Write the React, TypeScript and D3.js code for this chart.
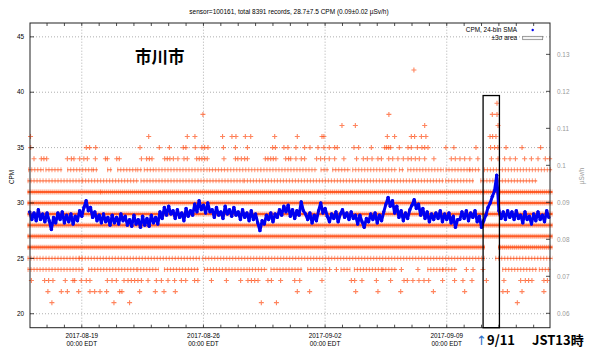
import React from 'react';
import * as d3 from 'd3';

const width = 600, height = 352;
const margin = { top: 23, right: 50, bottom: 24.3, left: 30 };

// time runs in days from 2017-08-16 00:00 (EDT wall clock)
const START = Date.UTC(2017, 7, 16);
const DAY = 864e5;
const toDate = (d: number) => new Date(START + d * DAY);

const title = 'sensor=100161, total 8391 records, 28.7±7.5 CPM (0.09±0.02 µSv/h)';
const dateTicks = ['2017-08-19', '2017-08-26', '2017-09-02', '2017-09-09'];
const cpmTicks = [20, 25, 30, 35, 40, 45];
const usvTicks = [0.06, 0.07, 0.08, 0.09, 0.1, 0.11, 0.12, 0.13];
const CPM_PER_USV = 334;

// isolated CPM readings (day offsets) for the sparse levels
const marks21 = [1.28, 4.85, 5.75, 13.33, 14.2, 28.06];
const marks22 = [1.05, 1.82, 2.17, 2.82, 3.47, 3.74, 4.05, 4.43, 5.18, 5.31, 6.33, 7.23, 7.73, 8.38,
  15.4, 16.11, 18.76, 20.04, 21.35, 23.23, 25.03, 27.23, 27.49, 28.33, 29.59];
const marks23 = [0.1, 0.86, 1.09, 1.34, 2.05, 2.49, 2.59, 2.97, 3.26, 3.47, 4.47, 4.74, 4.99, 5.43, 5.66,
  5.85, 6.04, 6.23, 6.43, 6.81, 7.29, 7.58, 7.96, 8.34, 8.73, 8.98, 9.49, 9.68, 10.46, 11.32, 12.14,
  12.56, 12.76, 12.95, 13.14, 13.71, 13.91, 14.44, 15.25, 15.54, 16.82, 18.51, 18.7, 19.12, 19.95,
  20.77, 21.54, 21.73, 22.05, 22.4, 22.69, 22.96, 23.76, 24.45, 24.93, 25.45, 26.28, 27.29, 28.25,
  28.52, 28.71, 28.9, 29.59, 29.79];
const marks24 = [17.26, 17.65, 21.39, 22.34, 25.13, 25.51, 26.08];
const marks34 = [0.25, 0.67, 0.82, 0.98, 2.17, 2.4, 2.55, 2.88, 3.12, 3.32, 3.78, 4.36, 4.47, 5.01, 5.16,
  6.43, 6.73, 6.89, 7.04, 7.77, 7.92, 8.07, 8.27, 8.53, 8.88, 9.07, 9.61, 9.76, 9.91, 10.07, 10.22,
  11.18, 11.84, 11.98, 12.18, 12.37, 12.53, 13.56, 13.71, 13.87, 14.02, 14.17, 14.73, 14.9, 15.02,
  15.32, 15.63, 15.82, 16.51, 16.74, 16.97, 17.24, 17.55, 18.08, 18.81, 19.2, 19.43, 19.7, 20.04,
  20.24, 20.66, 20.89, 21.19, 21.5, 21.77, 21.96, 22.19, 22.42, 22.73, 23.26, 24.26, 24.49, 24.76,
  25.03, 25.33, 25.79, 26.57, 26.95, 27.33, 27.64, 27.95, 28.48, 28.87, 29.25, 29.67, 29.92];
const marks35 = [0.06, 3.26, 3.45, 3.8, 6.35, 7.46, 8.04, 8.84, 8.99, 9.53, 9.91, 10.07, 10.26, 11.15,
  11.84, 12.53, 13.98, 14.14, 14.63, 14.86, 15.32, 15.82, 16.13, 16.59, 16.93, 17.24, 17.55, 17.7,
  18.66, 18.93, 19.66, 20.43, 20.54, 20.66, 20.77, 21.27, 21.77, 21.96, 22.31, 22.57, 22.73, 22.92,
  23.95, 24.41, 25.68, 26.52, 26.75, 26.94, 27.41, 28.33, 29.4];
const marks36 = [0.05, 6.85, 9.07, 9.51, 11.1, 11.64, 11.87, 12.41, 12.72, 14.1, 15.4, 16.82, 16.93,
  20.58, 21.0, 21.96, 22.15, 22.54, 22.8, 26.49, 26.64, 26.83];
const marks37 = [17.97, 18.74, 22.73, 26.95];
const marks38 = [9.97, 20.67, 26.62, 26.89];
const marks39 = [26.89];
const marks42 = [22.11];

// stretches (start, end day) where readings at a level overlap into a band
const runs24 = [[0.02, 2.97], [3.51, 6.04], [6.33, 7.29], [7.87, 9.59], [10.17, 11.12], [11.41, 12.47],
  [12.76, 13.52], [14.0, 15.54], [16.11, 16.97], [18.03, 18.31], [18.8, 20.24], [20.43, 21.0],
  [23.02, 23.69], [23.88, 24.45], [27.33, 29.06], [29.44, 29.82]];
const runs25 = [[0.02, 2.88], [2.97, 9.68], [10.07, 26.05], [26.93, 29.94]];
const runs26 = [[0.02, 26.05], [27.1, 29.94]];
const runs27 = [[0.02, 29.94]];
const runs28 = [[0.02, 29.94]];
const runs29 = [[0.02, 29.94]];
const runs30 = [[0.02, 29.94]];
const runs31 = [[0.02, 4.0], [4.2, 29.94]];
const runs32 = [[0.02, 2.88], [3.16, 6.14], [6.52, 12.18], [12.47, 23.69], [24.05, 25.42],
  [26.07, 26.93], [27.14, 29.06]];
const runs33 = [[0.06, 0.67], [1.05, 1.73], [2.3, 3.55], [3.78, 3.78], [4.6, 4.6], [5.18, 6.04],
  [6.33, 6.33], [6.71, 7.09], [7.38, 10.17], [10.46, 11.22], [11.51, 13.14], [13.42, 16.4],
  [16.88, 17.07], [17.55, 18.31], [18.7, 21.0], [21.39, 21.39], [21.87, 23.69], [24.07, 25.22],
  [25.42, 25.79], [26.28, 26.95], [27.14, 29.92]];
const solidLevels = [26, 27, 28, 29, 30, 31];

// 24-bin moving average, CPM, one value every 3 hours from day 0
const SMA_STEP = 0.125;
const smaValues = [
  29.2, 28.5, 29.1, 28.4, 29.4, 28.5, 29.0, 28.3, 29.1, 28.4, 27.6, 28.7, 28.2, 29.1, 28.5, 29.2,
  28.2, 28.9, 28.3, 29.0, 28.1, 28.8, 28.4, 29.3, 28.8, 29.6, 30.2, 29.3, 29.6, 28.7, 29.2, 28.4,
  28.9, 28.2, 29.0, 28.3, 28.7, 28.0, 28.9, 28.2, 28.7, 28.1, 29.0, 28.4, 28.8, 28.0, 28.5, 27.9,
  28.9, 28.1, 28.5, 27.8, 28.8, 28.0, 28.6, 27.9, 28.9, 28.2, 28.7, 28.1, 29.2, 28.6, 29.6, 28.9,
  29.7, 29.0, 29.3, 28.6, 29.4, 28.7, 29.1, 28.4, 29.5, 28.8, 29.3, 28.9, 29.9, 29.2, 30.2, 29.4,
  29.8, 29.1, 30.0, 29.2, 29.4, 28.7, 29.6, 28.9, 29.2, 28.6, 29.7, 29.0, 29.4, 28.8, 29.6, 28.9,
  29.2, 28.5, 29.4, 28.7, 29.1, 28.4, 29.3, 28.5, 29.0, 28.2, 27.5, 28.4, 28.1, 28.9, 28.5, 29.1,
  28.3, 29.0, 28.7, 29.4, 28.9, 29.7, 29.2, 29.8, 28.8, 29.4, 28.6, 29.3, 28.9, 30.1, 29.3, 29.0,
  28.5, 29.1, 28.2, 28.9, 28.4, 29.3, 30.0, 29.1, 29.5, 28.8, 28.3, 29.0, 28.6, 29.2, 28.3, 29.0,
  29.4, 28.7, 29.1, 28.5, 29.2, 28.6, 28.9, 28.1, 28.9, 28.3, 27.8, 28.6, 28.3, 29.0, 28.5, 29.1,
  28.2, 28.9, 28.4, 29.2, 29.9, 30.5, 29.7, 30.2, 29.1, 29.7, 28.7, 29.3, 28.4, 29.1, 28.6, 29.4,
  29.8, 30.3, 29.5, 29.9, 28.9, 29.5, 28.6, 29.2, 28.3, 29.0, 28.5, 29.1, 28.6, 29.3, 28.3, 29.0,
  28.5, 29.1, 28.2, 28.8, 27.8, 28.5, 28.5, 29.2, 28.6, 29.3, 28.4, 29.1, 28.7, 29.3, 28.3, 28.8,
  27.8, 28.4, 28.9, 29.6, 30.0, 30.6, 31.1, 32.5, 29.3, 28.6, 29.2, 28.5, 29.3, 28.7, 29.2, 28.5,
  29.3, 28.6, 28.9, 28.2, 29.2, 28.5, 28.8, 28.1, 29.0, 28.4, 29.2, 28.5, 28.9, 28.3, 29.3, 28.7,
];

const ORANGE = '#ff5018';
const BLUE = '#0000f0';
const FONT = '"Liberation Sans", Arial, sans-serif';

export default function App() {
  const x = d3.scaleUtc()
    .domain([toDate(0.02), toDate(29.94)])
    .range([margin.left, width - margin.right]);
  const y = d3.scaleLinear()
    .domain([18.74, 46.25])
    .range([height - margin.bottom, margin.top]);
  const y2 = d3.scaleLinear()
    .domain(y.domain().map(v => v / CPM_PER_USV))
    .range(y.range());

  const [x0, x1] = x.range();
  const [yb, yt] = y.range();

  const markRows: [number, number[]][] = [
    [21, marks21], [22, marks22], [23, marks23], [24, marks24], [34, marks34], [35, marks35],
    [36, marks36], [37, marks37], [38, marks38], [39, marks39], [42, marks42],
  ];
  const runRows: [number, number[][]][] = [
    [24, runs24], [25, runs25], [26, runs26], [27, runs27], [28, runs28], [29, runs29],
    [30, runs30], [31, runs31], [32, runs32], [33, runs33],
  ];

  const plus = 'M-2.5,0H2.5M0,-2.5V2.5';
  const days = d3.utcDay.range(x.domain()[0], x.domain()[1]);
  const parse = d3.utcParse('%Y-%m-%d');

  const sma = smaValues.map((v, i) => [i * SMA_STEP, v]);
  const line = d3.line<number[]>()
    .x(d => x(toDate(d[0])))
    .y(d => y(d[1]));

  // the highlighted window around 9/11
  const box = { from: 26.09, to: 27.03, top: 39.7 };

  return (
    <svg width={width} height={height} viewBox={`0 0 ${width} ${height}`}
      style={{ position: 'absolute', left: 0, top: 0, background: '#fff' }}
      fontFamily={FONT}>
      <rect width={width} height={height} fill="#fff" />
      <text x={289} y={13.5} fontSize={6.5} textAnchor="middle" fill="#000">{title}</text>

      {/* grid */}
      <g stroke="#9a9a9a" strokeWidth={0.8} strokeDasharray="1 2">
        {cpmTicks.map(t => <line key={t} x1={x0} x2={x1} y1={y(t)} y2={y(t)} />)}
        {dateTicks.map(t => <line key={t} x1={x(parse(t)!)} x2={x(parse(t)!)} y1={yb} y2={yt} />)}
      </g>

      {/* dense readings as bands */}
      {runRows.map(([lvl, runs]) => {
        const solid = solidLevels.includes(lvl);
        return (
          <g key={'r' + lvl}>
            {runs.map(([s, e], i) => {
              const a = x(toDate(s)) - 2.5, b = x(toDate(e)) + 2.5, yy = y(lvl);
              return (
                <g key={i}>
                  <line x1={a} x2={b} y1={yy} y2={yy} stroke={ORANGE}
                    strokeWidth={solid ? 2 : 1.2} strokeOpacity={solid ? 0.9 : 0.75} />
                  <line x1={a} x2={b} y1={yy} y2={yy} stroke={ORANGE} strokeWidth={5}
                    strokeDasharray={solid ? '1.2 0.8' : '1.1 1.9'} strokeOpacity={solid ? 0.6 : 0.5} />
                </g>
              );
            })}
          </g>
        );
      })}

      {/* isolated readings */}
      {markRows.map(([lvl, ds]) => (
        <g key={'m' + lvl}>
          {ds.map((d, i) => (
            <path key={i} d={plus} transform={`translate(${x(toDate(d))},${y(lvl)})`}
              stroke={ORANGE} strokeWidth={1.1} strokeOpacity={0.7} fill="none" />
          ))}
        </g>
      ))}

      {/* moving average */}
      <path d={line(sma) || ''} fill="none" stroke={BLUE} strokeWidth={3} strokeLinejoin="round" />
      {sma.map((d, i) => (
        <circle key={i} cx={x(toDate(d[0]))} cy={y(d[1])} r={1.7} fill={BLUE} />
      ))}

      {/* frame and ticks */}
      <rect x={x0} y={yt} width={x1 - x0} height={yb - yt} fill="none" stroke="#222" strokeWidth={1} />
      <g stroke="#222" strokeWidth={0.8}>
        {days.map((d, i) => (
          <g key={i}>
            <line x1={x(d)} x2={x(d)} y1={yb} y2={yb - 3} />
            <line x1={x(d)} x2={x(d)} y1={yt} y2={yt + 3} />
          </g>
        ))}
        {cpmTicks.map(t => <line key={t} x1={x0} x2={x0 + 4} y1={y(t)} y2={y(t)} />)}
        {usvTicks.map(t => <line key={t} x1={x1} x2={x1 - 4} y1={y2(t)} y2={y2(t)} />)}
      </g>

      {/* tick labels */}
      <g fontSize={6.4} fill="#000">
        {cpmTicks.map(t => (
          <text key={t} x={x0 - 6} y={y(t) + 2.2} textAnchor="end">{t}</text>
        ))}
        {dateTicks.map(t => (
          <text key={t} x={x(parse(t)!)} textAnchor="middle">
            <tspan x={x(parse(t)!)} y={337.5}>{t}</tspan>
            <tspan x={x(parse(t)!)} y={346}>00:00 EDT</tspan>
          </text>
        ))}
      </g>
      <g fontSize={6.4} fill="#999">
        {usvTicks.map(t => (
          <text key={t} x={x1 + 7} y={y2(t) + 2.2}>{String(+t.toFixed(2))}</text>
        ))}
      </g>
      <text transform="translate(14,177) rotate(-90)" fontSize={6.4} textAnchor="middle">CPM</text>
      <text transform="translate(584,176) rotate(-90)" fontSize={6.4} textAnchor="middle" fill="#999">µSv/h</text>

      {/* legend */}
      <g fontSize={6.4}>
        <text x={517} y={32} textAnchor="end">CPM, 24-bin SMA</text>
        <circle cx={532.7} cy={30} r={1.2} fill={BLUE} />
        <text x={517} y={40} textAnchor="end">±3σ area</text>
        <rect x={522.7} y={36.3} width={20} height={3.4} fill="#f4f4f4" stroke="#777" strokeWidth={0.7} />
      </g>

      {/* annotations */}
      <text x={135} y={63} fontSize={16.5} fontWeight="bold"
        fontFamily='"Noto Sans CJK JP", sans-serif' fill="#000">市川市</text>
      <rect x={x(toDate(box.from))} y={y(box.top)} width={x(toDate(box.to)) - x(toDate(box.from))}
        height={yb - y(box.top)} fill="none" stroke="#000" strokeWidth={1.3} />
      <text y={345} fontSize={13} fontWeight="bold" fontFamily='"Noto Sans CJK JP", sans-serif'>
        <tspan x={476} fill="#2a70c8" fontWeight="normal" fontFamily='"DejaVu Sans", sans-serif'
          fontSize={13}>↑</tspan>
        <tspan x={487} fill="#000">9/11</tspan>
        <tspan x={532} fill="#000">JST13時</tspan>
      </text>
    </svg>
  );
}
